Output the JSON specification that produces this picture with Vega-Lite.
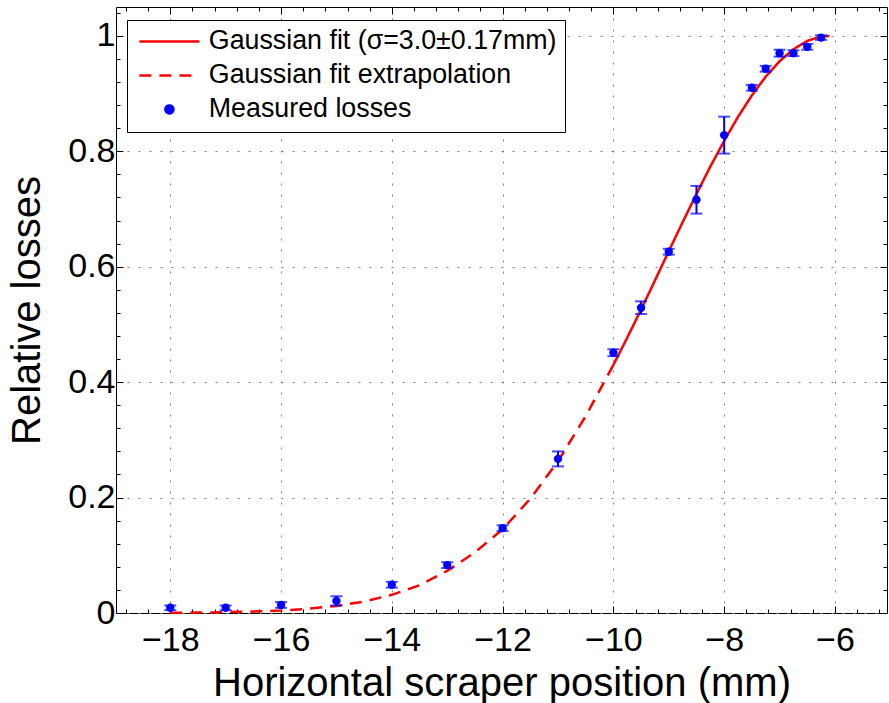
{
  "$schema": "https://vega.github.io/schema/vega-lite/v6.json",
  "width": 771,
  "height": 606,
  "autosize": {"type": "none"},
  "padding": {"left": 116, "top": 7, "right": 2, "bottom": 90},
  "background": "#ffffff",
  "config": {
    "font": "Liberation Sans",
    "view": {"stroke": "#000000", "strokeWidth": 1},
    "axis": {"domain": false, "tickColor": "#000000", "labelColor": "#000000", "titleColor": "#000000", "titleFontWeight": "normal", "labelOverlap": false, "labelFlush": false, "labelBound": false, "tickWidth": 1}
  },
  "datasets": {
    "curve": [
      {"x": -18, "y": 0.0004, "series": "Gaussian fit extrapolation"},
      {"x": -17.5, "y": 0.0007, "series": "Gaussian fit extrapolation"},
      {"x": -17, "y": 0.0014, "series": "Gaussian fit extrapolation"},
      {"x": -16.5, "y": 0.0025, "series": "Gaussian fit extrapolation"},
      {"x": -16, "y": 0.0043, "series": "Gaussian fit extrapolation"},
      {"x": -15.5, "y": 0.0074, "series": "Gaussian fit extrapolation"},
      {"x": -15, "y": 0.0123, "series": "Gaussian fit extrapolation"},
      {"x": -14.5, "y": 0.0198, "series": "Gaussian fit extrapolation"},
      {"x": -14, "y": 0.0315, "series": "Gaussian fit extrapolation"},
      {"x": -13.5, "y": 0.048, "series": "Gaussian fit extrapolation"},
      {"x": -13, "y": 0.073, "series": "Gaussian fit extrapolation"},
      {"x": -12.5, "y": 0.105, "series": "Gaussian fit extrapolation"},
      {"x": -12, "y": 0.145, "series": "Gaussian fit extrapolation"},
      {"x": -11.5, "y": 0.198, "series": "Gaussian fit extrapolation"},
      {"x": -11, "y": 0.263, "series": "Gaussian fit extrapolation"},
      {"x": -10.5, "y": 0.341, "series": "Gaussian fit extrapolation"},
      {"x": -10, "y": 0.43, "series": "Gaussian fit extrapolation"},
      {"x": -10, "y": 0.43, "series": "Gaussian fit (σ=3.0±0.17mm)"},
      {"x": -9.75, "y": 0.477, "series": "Gaussian fit (σ=3.0±0.17mm)"},
      {"x": -9.5, "y": 0.526, "series": "Gaussian fit (σ=3.0±0.17mm)"},
      {"x": -9.25, "y": 0.576, "series": "Gaussian fit (σ=3.0±0.17mm)"},
      {"x": -9, "y": 0.627, "series": "Gaussian fit (σ=3.0±0.17mm)"},
      {"x": -8.75, "y": 0.677, "series": "Gaussian fit (σ=3.0±0.17mm)"},
      {"x": -8.5, "y": 0.726, "series": "Gaussian fit (σ=3.0±0.17mm)"},
      {"x": -8.25, "y": 0.7735, "series": "Gaussian fit (σ=3.0±0.17mm)"},
      {"x": -8, "y": 0.818, "series": "Gaussian fit (σ=3.0±0.17mm)"},
      {"x": -7.75, "y": 0.8596, "series": "Gaussian fit (σ=3.0±0.17mm)"},
      {"x": -7.5, "y": 0.8968, "series": "Gaussian fit (σ=3.0±0.17mm)"},
      {"x": -7.25, "y": 0.9292, "series": "Gaussian fit (σ=3.0±0.17mm)"},
      {"x": -7, "y": 0.956, "series": "Gaussian fit (σ=3.0±0.17mm)"},
      {"x": -6.75, "y": 0.9768, "series": "Gaussian fit (σ=3.0±0.17mm)"},
      {"x": -6.5, "y": 0.9911, "series": "Gaussian fit (σ=3.0±0.17mm)"},
      {"x": -6.3, "y": 0.9978, "series": "Gaussian fit (σ=3.0±0.17mm)"},
      {"x": -6.1, "y": 1.0, "series": "Gaussian fit (σ=3.0±0.17mm)"}
    ],
    "meas": [
      {"x": -18, "y": 0.009, "err": 0.004, "series": "Measured losses"},
      {"x": -17, "y": 0.009, "err": 0.004, "series": "Measured losses"},
      {"x": -16, "y": 0.014, "err": 0.005, "series": "Measured losses"},
      {"x": -15, "y": 0.021, "err": 0.008, "series": "Measured losses"},
      {"x": -14, "y": 0.049, "err": 0.005, "series": "Measured losses"},
      {"x": -13, "y": 0.083, "err": 0.005, "series": "Measured losses"},
      {"x": -12, "y": 0.147, "err": 0.005, "series": "Measured losses"},
      {"x": -11, "y": 0.267, "err": 0.013, "series": "Measured losses"},
      {"x": -10, "y": 0.451, "err": 0.006, "series": "Measured losses"},
      {"x": -9.5, "y": 0.529, "err": 0.011, "series": "Measured losses"},
      {"x": -9, "y": 0.626, "err": 0.005, "series": "Measured losses"},
      {"x": -8.5, "y": 0.716, "err": 0.024, "series": "Measured losses"},
      {"x": -8, "y": 0.828, "err": 0.032, "series": "Measured losses"},
      {"x": -7.5, "y": 0.91, "err": 0.005, "series": "Measured losses"},
      {"x": -7.25, "y": 0.943, "err": 0.005, "series": "Measured losses"},
      {"x": -7, "y": 0.97, "err": 0.006, "series": "Measured losses"},
      {"x": -6.75, "y": 0.97, "err": 0.005, "series": "Measured losses"},
      {"x": -6.5, "y": 0.981, "err": 0.005, "series": "Measured losses"},
      {"x": -6.25, "y": 0.997, "err": 0.004, "series": "Measured losses"}
    ]
  },
  "layer": [
    {
      "data": {"name": "curve"},
      "mark": {"type": "line", "strokeWidth": 2.5},
      "encoding": {
        "x": {
          "field": "x", "type": "quantitative",
          "scale": {"domain": [-18.98, -5.06], "nice": false, "zero": false},
          "axis": {
            "orient": "bottom",
            "title": "Horizontal scraper position (mm)",
            "titleFontSize": 40, "titlePadding": 3,
            "values": [-18.8,-18.4,-18,-17.6,-17.2,-16.8,-16.4,-16,-15.6,-15.2,-14.8,-14.4,-14,-13.6,-13.2,-12.8,-12.4,-12,-11.6,-11.2,-10.8,-10.4,-10,-9.6,-9.2,-8.8,-8.4,-8,-7.6,-7.2,-6.8,-6.4,-6,-5.6,-5.2],
            "labelExpr": "datum.value % 2 === 0 ? format(datum.value, '~g') : ''",
            "labelFontSize": 34, "labelPadding": 17,
            "tickSize": {"condition": {"test": "datum.value % 2 === 0", "value": -7}, "value": -4},
            "grid": true,
            "gridColor": "#808080", "gridDash": [2, 9], "gridWidth": 1,
            "gridOpacity": {"condition": {"test": "datum.value % 2 === 0", "value": 1}, "value": 0}
          }
        },
        "y": {
          "field": "y", "type": "quantitative",
          "scale": {"domain": [0, 1.05], "nice": false, "zero": false},
          "axis": {
            "orient": "left",
            "title": "Relative losses",
            "titleFontSize": 40, "titlePadding": 20,
            "values": [0,0.04,0.08,0.12,0.16,0.2,0.24,0.28,0.32,0.36,0.4,0.44,0.48,0.52,0.56,0.6,0.64,0.68,0.72,0.76,0.8,0.84,0.88,0.92,0.96,1,1.04],
            "labelExpr": "abs(datum.value * 5 - round(datum.value * 5)) < 0.000001 ? format(datum.value, '~g') : ''",
            "labelFontSize": 34, "labelPadding": 8,
            "tickSize": {"condition": {"test": "abs(datum.value * 5 - round(datum.value * 5)) < 0.000001", "value": -7}, "value": -4},
            "grid": true,
            "gridColor": "#808080", "gridDash": [2, 9], "gridWidth": 1,
            "gridOpacity": {"condition": {"test": "abs(datum.value * 5 - round(datum.value * 5)) < 0.000001", "value": 1}, "value": 0}
          }
        },
        "color": {
          "field": "series", "type": "nominal",
          "scale": {"domain": ["Gaussian fit (σ=3.0±0.17mm)", "Gaussian fit extrapolation", "Measured losses"], "range": ["#ff0000", "#ff0000", "#0000ff"]},
          "legend": {
            "orient": "none", "legendX": 11, "legendY": 13, "title": null,
            "labelFontSize": 26.8, "labelFont": "Liberation Sans", "labelColor": "#000000", "labelOffset": 26, "labelLimit": 0,
            "padding": 8, "rowPadding": 6, "strokeColor": "#000000", "fillColor": "#ffffff",
            "symbolOffset": 21, "symbolSize": 400, "symbolStrokeWidth": 2.5,
            "encode": {"symbols": {"update": {
              "shape": {"signal": "datum.index === 2 ? 'circle' : 'M-3,0H3'"},
              "size": {"signal": "datum.index === 2 ? 64 : 400"},
              "fill": {"signal": "datum.index === 2 ? '#0000ff' : 'transparent'"},
              "stroke": {"signal": "datum.index === 2 ? 'transparent' : '#ff0000'"},
              "strokeDash": {"signal": "datum.index === 1 ? [12, 8] : [1, 0]"},
              "strokeWidth": {"value": 2.5},
              "opacity": {"value": 1}
            }}}
          }
        },
        "strokeDash": {
          "field": "series", "type": "nominal",
          "scale": {"domain": ["Gaussian fit (σ=3.0±0.17mm)", "Gaussian fit extrapolation"], "range": [[1, 0], [12, 8]]},
          "legend": null
        }
      }
    },
    {
      "data": {"name": "meas"},
      "mark": {"type": "errorbar", "ticks": true, "size": 12, "thickness": 2, "color": "#0000ff"},
      "encoding": {
        "x": {"field": "x", "type": "quantitative", "axis": null},
        "y": {"field": "y", "type": "quantitative", "axis": null},
        "yError": {"field": "err"}
      }
    },
    {
      "data": {"name": "meas"},
      "mark": {"type": "point", "filled": true, "size": 70, "opacity": 1},
      "encoding": {
        "x": {
          "field": "x", "type": "quantitative",
          "axis": {
            "orient": "top", "title": null, "labels": false, "grid": false,
            "values": [-18.8,-18.4,-18,-17.6,-17.2,-16.8,-16.4,-16,-15.6,-15.2,-14.8,-14.4,-14,-13.6,-13.2,-12.8,-12.4,-12,-11.6,-11.2,-10.8,-10.4,-10,-9.6,-9.2,-8.8,-8.4,-8,-7.6,-7.2,-6.8,-6.4,-6,-5.6,-5.2],
            "tickSize": {"condition": {"test": "datum.value % 2 === 0", "value": -7}, "value": -4}
          }
        },
        "y": {
          "field": "y", "type": "quantitative",
          "axis": {
            "orient": "right", "title": null, "labels": false, "grid": false,
            "values": [0,0.04,0.08,0.12,0.16,0.2,0.24,0.28,0.32,0.36,0.4,0.44,0.48,0.52,0.56,0.6,0.64,0.68,0.72,0.76,0.8,0.84,0.88,0.92,0.96,1,1.04],
            "tickSize": {"condition": {"test": "abs(datum.value * 5 - round(datum.value * 5)) < 0.000001", "value": -7}, "value": -4}
          }
        },
        "color": {
          "field": "series", "type": "nominal",
          "scale": {"domain": ["Gaussian fit (σ=3.0±0.17mm)", "Gaussian fit extrapolation", "Measured losses"], "range": ["#ff0000", "#ff0000", "#0000ff"]}
        }
      }
    }
  ],
  "resolve": {"axis": {"x": "independent", "y": "independent"}}
}
